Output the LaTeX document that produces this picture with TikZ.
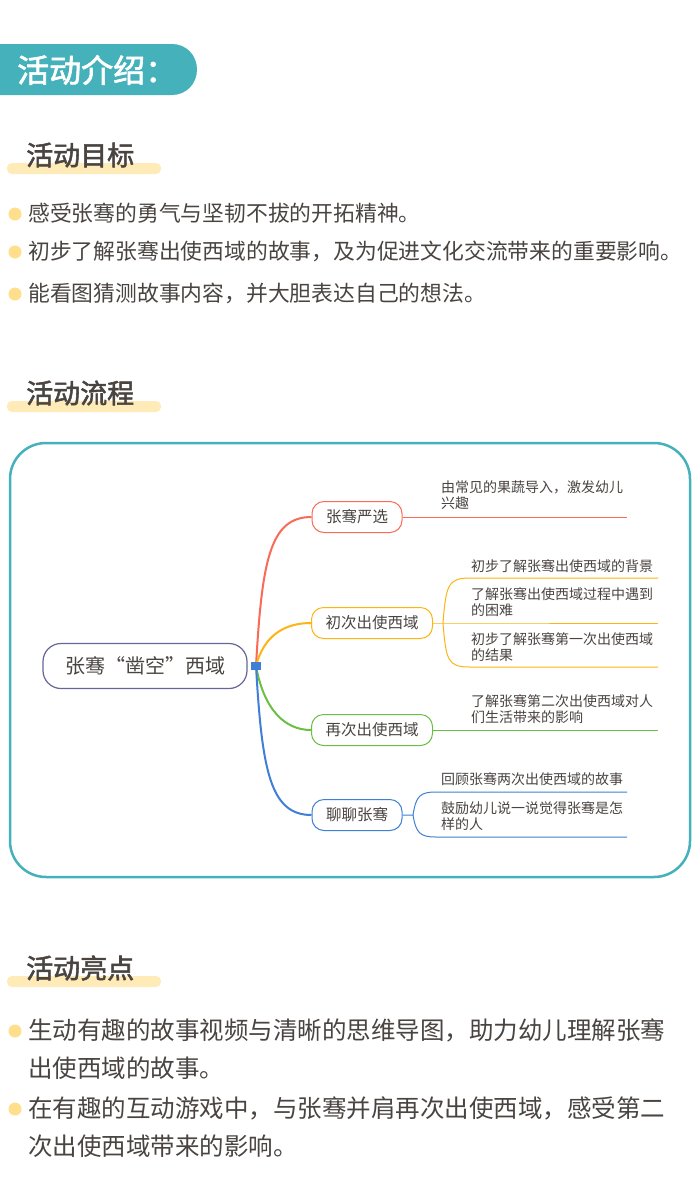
\documentclass[tikz,border=0pt]{standalone}
\usepackage{fontspec}
\setmainfont{Noto Sans CJK SC}
\newfontfamily\cjkb[FakeBold=2]{Noto Sans CJK SC}
\usetikzlibrary{positioning}
\definecolor{tealc}{HTML}{45B1BA}
\definecolor{barc}{HTML}{FFEBB8}
\definecolor{dotc}{HTML}{FFDF8C}
\definecolor{txtc}{HTML}{4A4441}
\definecolor{redc}{HTML}{F96A57}
\definecolor{orac}{HTML}{FDB515}
\definecolor{grnc}{HTML}{6BBF45}
\definecolor{bluc}{HTML}{3F7FD6}
\tikzset{
  sectitle/.style={anchor=west,inner sep=0pt,font=\cjkb\fontsize{27}{27}\selectfont,text=txtc},
  bullet/.style={anchor=west,inner sep=0pt,font=\fontsize{21.8}{21.8}\selectfont,text=txtc},
  bigbullet/.style={bullet,font=\fontsize{24.5}{24.5}\selectfont},
  branch/.style={draw=#1,line width=1pt,rounded corners=12pt,minimum height=31pt,inner xsep=14pt,font=\fontsize{15.5}{15.5}\selectfont,text=txtc},
  leaf/.style={anchor=south west,inner sep=1pt,align=left,font=\fontsize{14}{16}\selectfont,text=txtc}
}
\begin{document}
\begin{tikzpicture}[x=1pt,y=1pt,yscale=-1]
    \useasboundingbox (0,0) rectangle (700,1202);
    \fill[white] (0,0) rectangle (700,1202);
    % header
    \fill[tealc] (0,44) -- (172,44) .. controls (186,44) and (197,55) .. (197,69.5) .. controls (197,84) and (186,95) .. (172,95) -- (0,95) -- cycle;
    \node[anchor=west,inner sep=0pt,text=white,font=\cjkb\fontsize{32}{32}\selectfont] (head) at (17,70) {活动介绍：};
    % section titles
    \foreach \y/\t in {155/活动目标,393/活动流程,968/活动亮点}{
        \fill[barc,rounded corners=5pt] (7,\y+8) rectangle (161,\y+19);
        \node[sectitle] at (26,\y) {\t};
    }
    % bullets
    \foreach \y/\t in {213/感受张骞的勇气与坚韧不拔的开拓精神。,
                       251/初步了解张骞出使西域的故事，及为促进文化交流带来的重要影响。,
                       293/能看图猜测故事内容，并大胆表达自己的想法。}{
        \node[bullet] at (28,\y) {\t};
    }
    \foreach \y/\t in {1030/生动有趣的故事视频与清晰的思维导图，助力幼儿理解张骞,
                       1068/出使西域的故事。,
                       1108/在有趣的互动游戏中，与张骞并肩再次出使西域，感受第二,
                       1146/次出使西域带来的影响。}{
        \node[bigbullet] at (28,\y) {\t};
    }
    \foreach \y in {213,251,293,1030,1108}
        \fill[dotc] (15,\y+1) circle (6.5);
    % mind map
    \draw[tealc,line width=2.5pt,rounded corners=36pt] (10,443) rectangle (690,877);
    \node[draw=gray!80!blue,line width=1.2pt,rounded corners=18pt,minimum width=204pt,minimum height=45pt,font=\fontsize{20}{20}\selectfont,text=txtc] (root) at (145,666) {张骞“凿空”西域};
    \node[branch=redc] (b1) at (357,517) {张骞严选};
    \node[branch=orac] (b2) at (372,623) {初次出使西域};
    \node[branch=grnc] (b3) at (372,730) {再次出使西域};
    \node[branch=bluc] (b4) at (357,815) {聊聊张骞};
    \coordinate (hub) at (256,666);
    \draw[redc,line width=2pt] (hub) .. controls (262,560) and (270,517) .. (b1.west);
    \draw[orac,line width=2pt] (hub) .. controls (264,635) and (285,623) .. (b2.west);
    \draw[grnc,line width=2pt] (hub) .. controls (264,710) and (285,730) .. (b3.west);
    \draw[bluc,line width=2pt] (hub) .. controls (262,770) and (270,815) .. (b4.west);
    \fill[bluc] (251,662) rectangle (261,670);
    % leaves
    \coordinate (r1) at (627,517);
    \draw[redc,line width=1pt] (b1.east) -- (r1);
    \node[leaf] (l1) at (440,511) {由常见的果蔬导入，激发幼儿\\兴趣};
    \coordinate (s2) at (443,623);
    \coordinate (o1) at (658,578);
    \coordinate (o2) at (658,623);
    \coordinate (o3) at (658,667);
    \draw[orac,line width=1pt] (b2.east) -- (s2) -- (o2);
    \draw[orac,line width=1pt] (s2) .. controls (446,585) and (448,578) .. (470,578) -- (o1);
    \draw[orac,line width=1pt] (s2) .. controls (446,661) and (448,667) .. (470,667) -- (o3);
    \node[leaf] (l21) at (470,574) {初步了解张骞出使西域的背景};
    \node[leaf] (l22) at (470,618) {了解张骞出使西域过程中遇到\\的困难};
    \node[leaf] (l23) at (470,663) {初步了解张骞第一次出使西域\\的结果};
    \coordinate (g1) at (658,730);
    \draw[grnc,line width=1pt] (b3.east) -- (g1);
    \node[leaf] (l3) at (470,725) {了解张骞第二次出使西域对人\\们生活带来的影响};
    \coordinate (s4) at (413,815);
    \coordinate (u1) at (627,792);
    \coordinate (u2) at (627,837);
    \draw[bluc,line width=1pt] (b4.east) -- (s4) .. controls (416,796) and (420,792) .. (436,792) -- (u1);
    \draw[bluc,line width=1pt] (s4) .. controls (416,833) and (420,837) .. (436,837) -- (u2);
    \node[leaf] (l41) at (440,787) {回顾张骞两次出使西域的故事};
    \node[leaf] (l42) at (440,832) {鼓励幼儿说一说觉得张骞是怎\\样的人};
\end{tikzpicture}
\end{document}
